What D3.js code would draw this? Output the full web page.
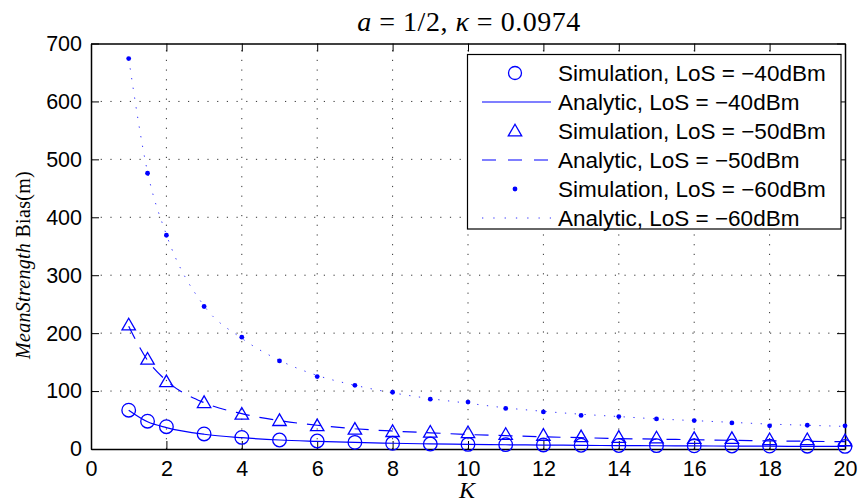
<!DOCTYPE html>
<html><head><meta charset="utf-8">
<script src="https://cdn.jsdelivr.net/npm/d3@7"></script>
<style>body{margin:0;background:#fff}svg{display:block}</style>
</head><body>
<script>
const K = [1, 1.5, 2, 3, 4, 5, 6, 7, 8, 9, 10, 11, 12, 13, 14, 15, 16, 17, 18, 19, 20];
const sim40 = [67, 48, 38.5, 26, 20, 15.5, 13.8, 11.5, 9.8, 8.6, 8, 7.5, 7, 6.5, 6, 5.8, 5.5, 5.2, 5, 4.8, 4.5];
const ana40 = [67, 47, 37, 25.5, 19.5, 15.5, 13.2, 11.3, 9.9, 8.8, 8, 7.3, 6.8, 6.3, 5.9, 5.6, 5.3, 5.0, 4.8, 4.6, 4.4];
const sim50 = [214, 155, 116, 80, 60, 49, 40, 34, 30, 29, 28, 25, 23.5, 21, 20, 19, 18, 18, 16, 16, 14];
const ana50 = [212, 153, 118, 80, 61, 49, 41, 35, 31, 28, 25, 23, 21, 19.5, 18, 17, 16, 15, 14, 13.3, 12.6];
const sim60 = [674, 476, 369, 246, 193, 152, 125, 110, 98, 86, 81, 70, 64, 58, 56, 52, 49, 45, 40, 41, 40];
const ana60 = [674, 478, 370, 247, 191, 153, 127, 110, 97, 87, 79, 71, 65, 60, 56, 52, 49, 46, 43, 41, 39];
const xTicks = [0, 2, 4, 6, 8, 10, 12, 14, 16, 18, 20];
const yTicks = [0, 100, 200, 300, 400, 500, 600, 700];
const legendLabels = ["Simulation, LoS = \u221240dBm", "Analytic, LoS = \u221240dBm",
  "Simulation, LoS = \u221250dBm", "Analytic, LoS = \u221250dBm",
  "Simulation, LoS = \u221260dBm", "Analytic, LoS = \u221260dBm"];

const W = 859, H = 504;
const L = 91, R = 845, T = 43.5, B = 449;
const blue = "#0000ff";
const svg = d3.select("body").append("svg").attr("width", W).attr("height", H);
const x = d3.scaleLinear().domain([0, 20]).range([L, R]);
const y = d3.scaleLinear().domain([0, 700]).range([B, T]);

// grid
const grid = svg.append("g").attr("stroke", "#000").attr("stroke-width", 1).attr("stroke-dasharray", "1.2,8.5").attr("opacity", 0.8);
xTicks.slice(1, -1).forEach(t => grid.append("line").attr("x1", x(t)).attr("x2", x(t)).attr("y1", B).attr("y2", T));
yTicks.slice(1, -1).forEach(t => grid.append("line").attr("x1", L).attr("x2", R).attr("y1", y(t)).attr("y2", y(t)));

// axes (ticks inside, on all four sides)
const tickFont = "'Liberation Sans', Arial, sans-serif";
const ax = svg.append("g").attr("transform", `translate(0,${B})`)
  .call(d3.axisBottom(x).tickValues(xTicks).tickSizeInner(-8).tickSizeOuter(0).tickPadding(13).tickFormat(d3.format("d")));
const axTop = svg.append("g").attr("transform", `translate(0,${T})`)
  .call(d3.axisTop(x).tickValues(xTicks).tickSizeInner(-8).tickSizeOuter(0).tickFormat(""));
const ay = svg.append("g").attr("transform", `translate(${L},0)`)
  .call(d3.axisLeft(y).tickValues(yTicks).tickSizeInner(-8).tickSizeOuter(0).tickPadding(9).tickFormat(d3.format("d")));
const ayR = svg.append("g").attr("transform", `translate(${R},0)`)
  .call(d3.axisRight(y).tickValues(yTicks).tickSizeInner(-8).tickSizeOuter(0).tickFormat(""));
[ax, axTop, ay, ayR].forEach(g => {
  g.select(".domain").attr("stroke", "#000").attr("stroke-width", 1.5);
  g.selectAll(".tick line").attr("stroke", "#000").attr("stroke-width", 1);
  g.selectAll("text").attr("font-family", tickFont).attr("font-size", 21.5).attr("fill", "#000");
});
ax.selectAll("text").attr("dy", "0.66em");

// lines
const line = d3.line().x((d, i) => x(K[i])).y(d => y(d)).curve(d3.curveMonotoneX);
svg.append("path").datum(ana40).attr("d", line).attr("fill", "none").attr("stroke", blue).attr("stroke-width", 1.2);
svg.append("path").datum(ana50).attr("d", line).attr("fill", "none").attr("stroke", blue).attr("stroke-width", 1.2).attr("stroke-dasharray", "14,10");
svg.append("path").datum(ana60).attr("d", line).attr("fill", "none").attr("stroke", blue).attr("stroke-width", 1).attr("stroke-dasharray", "1.3,8.5").attr("opacity", 0.8);

// markers
const tri = d3.symbol().type(d3.symbolTriangle).size(78);
svg.append("g").selectAll("circle").data(sim40).join("circle")
  .attr("cx", (d, i) => x(K[i])).attr("cy", d => y(d)).attr("r", 6.8)
  .attr("fill", "none").attr("stroke", blue).attr("stroke-width", 1.3);
svg.append("g").selectAll("path").data(sim50).join("path")
  .attr("d", tri).attr("transform", (d, i) => `translate(${x(K[i])},${y(d) + 1})`)
  .attr("fill", "none").attr("stroke", blue).attr("stroke-width", 1.3);
svg.append("g").selectAll("circle").data(sim60).join("circle")
  .attr("cx", (d, i) => x(K[i])).attr("cy", d => y(d)).attr("r", 2.4).attr("fill", blue);

// legend
const lg = svg.append("g");
lg.append("rect").attr("x", 467.5).attr("y", 54.5).attr("width", 373.5).attr("height", 174.5)
  .attr("fill", "#fff").attr("stroke", "#000").attr("stroke-width", 1.2);
legendLabels.forEach((lab, i) => {
  const cy = 73 + i * 29;
  lg.append("text").attr("x", 558).attr("y", cy).attr("dy", "0.36em").attr("font-family", tickFont)
    .attr("font-size", 22.5).text(lab);
});
const sx = 515;
lg.append("circle").attr("cx", sx).attr("cy", 73).attr("r", 6.5).attr("fill", "none").attr("stroke", blue).attr("stroke-width", 1.3);
lg.append("line").attr("x1", 482).attr("x2", 551).attr("y1", 102).attr("y2", 102).attr("stroke", blue).attr("stroke-width", 1.2);
lg.append("path").attr("d", tri).attr("transform", `translate(${sx},${131 + 1})`).attr("fill", "none").attr("stroke", blue).attr("stroke-width", 1.3);
lg.append("line").attr("x1", 482).attr("x2", 551).attr("y1", 160).attr("y2", 160).attr("stroke", blue).attr("stroke-width", 1.2).attr("stroke-dasharray", "14,12");
lg.append("circle").attr("cx", sx).attr("cy", 189).attr("r", 2.4).attr("fill", blue);
lg.append("line").attr("x1", 482).attr("x2", 551).attr("y1", 218).attr("y2", 218).attr("stroke", blue).attr("stroke-width", 1).attr("stroke-dasharray", "1.3,10").attr("opacity", 0.8);

// title
const serif = "'Liberation Serif', 'Times New Roman', serif";
const title = svg.append("text").attr("x", 469).attr("y", 31).attr("text-anchor", "middle")
  .attr("font-family", serif).attr("font-size", 28).attr("letter-spacing", 0.5);
title.append("tspan").attr("font-style", "italic").text("a");
title.append("tspan").text(" = 1/2, ");
title.append("tspan").attr("font-style", "italic").text("\u03BA");
title.append("tspan").text(" = 0.0974");

// x label
svg.append("text").attr("x", 467).attr("y", 498).attr("text-anchor", "middle")
  .attr("font-family", serif).attr("font-size", 24).attr("font-style", "italic").text("K");

// y label
const yl = svg.append("text").attr("transform", "translate(30,265) rotate(-90)").attr("text-anchor", "middle")
  .attr("font-family", serif).attr("font-size", 20).attr("letter-spacing", 0.3);
yl.append("tspan").attr("font-style", "italic").text("MeanStrength");
yl.append("tspan").text(" Bias(m)");
</script>
</body></html>
